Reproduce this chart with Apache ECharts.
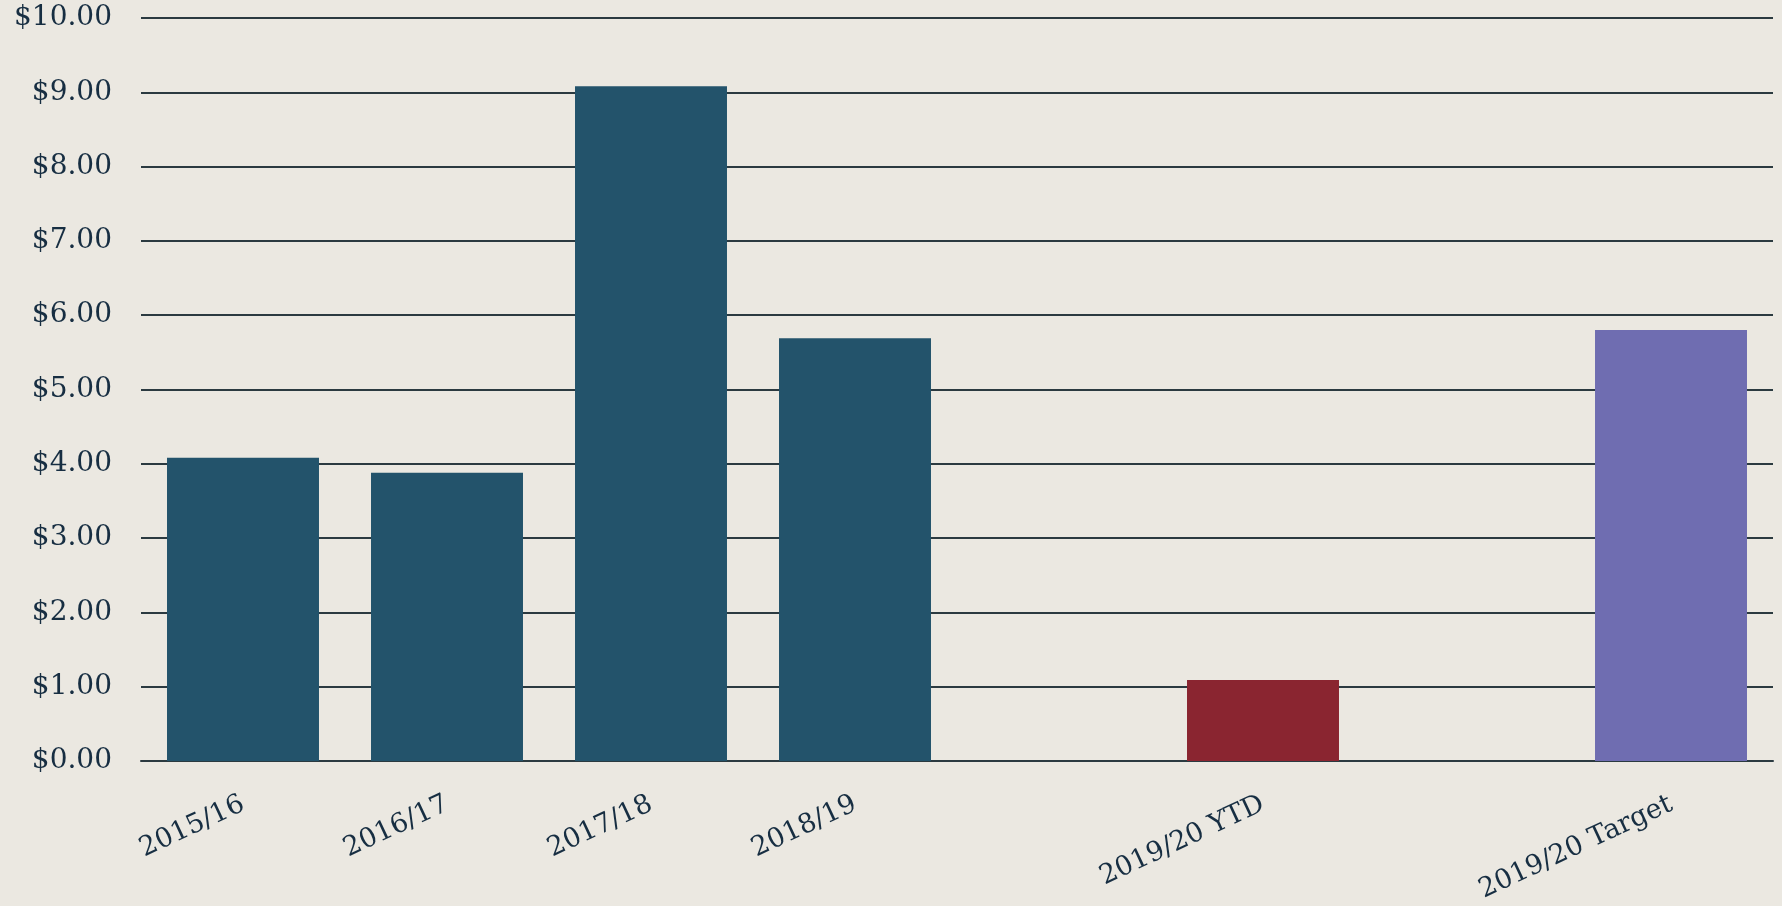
<!DOCTYPE html>
<html>
<head>
<meta charset="utf-8">
<style>
  html, body { margin: 0; padding: 0; background: #ebe8e1; }
  #chart { width: 1782px; height: 906px; }
</style>
<script src="https://cdn.jsdelivr.net/npm/echarts@6/dist/echarts.min.js"></script>
</head>
<body>
<div id="chart"></div>
<script>
// Yearly values per category; blank slots keep the spacing before the 2019/20 bars
const categories = ['2015/16', '2016/17', '2017/18', '2018/19', ' ', '2019/20 YTD', '  ', '2019/20 Target'];
const values = [4.08, 3.88, 9.08, 5.69, null, 1.09, null, 5.80];
const barColors = ['#23536b', '#23536b', '#23536b', '#23536b', '#23536b', '#8a2530', '#23536b', '#6f6db1'];
const yTicks = { min: 0, max: 10, interval: 1 };

const textColor = '#172e42';
const lineColor = '#2b3a40';
const fontFamily = '"DejaVu Serif", "Liberation Serif", serif';

const chart = echarts.init(document.getElementById('chart'));
chart.setOption({
  backgroundColor: '#ebe8e1',
  animation: false,
  grid: { left: 141, right: 9, top: 18, bottom: 145, containLabel: false, outerBoundsMode: 'none' },
  xAxis: {
    type: 'category',
    data: categories,
    axisLine: { show: true, lineStyle: { color: lineColor, width: 2 } },
    axisTick: { show: false },
    axisLabel: {
      interval: 0,
      rotate: 25,
      margin: 42,
      color: textColor,
      fontFamily: fontFamily,
      fontSize: 27
    }
  },
  yAxis: {
    type: 'value',
    min: yTicks.min,
    max: yTicks.max,
    interval: yTicks.interval,
    axisLine: { show: false },
    axisTick: { show: false },
    splitLine: { lineStyle: { color: lineColor, width: 2 } },
    axisLabel: {
      margin: 29,
      color: textColor,
      fontFamily: fontFamily,
      fontSize: 28,
      formatter: v => '$' + v.toFixed(2)
    }
  },
  series: [{
    type: 'bar',
    barCategoryGap: '25.5%',
    data: values.map((v, i) => ({ value: v, itemStyle: { color: barColors[i] } })),
    z: 3
  }]
});
</script>
</body>
</html>
